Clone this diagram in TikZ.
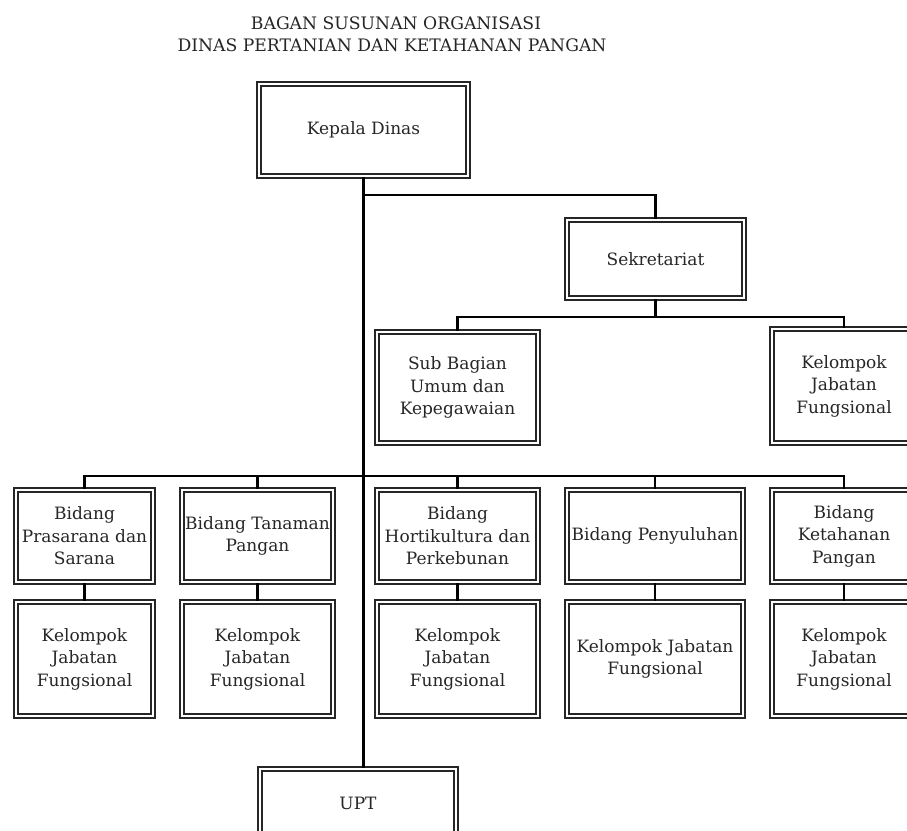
\documentclass[tikz,border=0pt]{standalone}
\usepackage{fontspec}
\setmainfont{DejaVu Serif}
\begin{document}
\begin{tikzpicture}[x=1pt,y=-1pt,
  box/.style={draw=black!85, double=white, double distance=1.9pt, line width=1.6pt,
    align=center, font=\fontsize{17}{22.5}\selectfont, inner sep=1pt, text=black!85},
  conn/.style={line width=2.8pt, draw=black},
  ttl/.style={font=\fontsize{17.2}{20}\selectfont, text=black!85}]
\useasboundingbox (0,0) rectangle (907,830);
\clip (0,0) rectangle (907,830);
\fill[white] (0,0) rectangle (907,830);
% title
\node[ttl] (t1) at (396,23) {BAGAN SUSUNAN ORGANISASI};
\node[ttl] (t2) at (392,45) {DINAS PERTANIAN DAN KETAHANAN PANGAN};
% top
\node[box, minimum width=209, minimum height=92] (kd) at (363.5,130) {Kepala Dinas};
\node[box, minimum width=177, minimum height=78] (sek) at (655.5,259) {Sekretariat};
\node[box, minimum width=161, minimum height=111] (sub) at (457.5,387.5) {Sub Bagian\\Umum dan\\Kepegawaian};
\node[box, minimum width=144, minimum height=114] (kjf0) at (844,386) {Kelompok\\Jabatan\\Fungsional};
% bidang row
\node[box, minimum width=137, minimum height=92] (b1) at (84.5,536) {Bidang\\Prasarana dan\\Sarana};
\node[box, minimum width=151, minimum height=92] (b2) at (257.5,536) {Bidang Tanaman\\Pangan};
\node[box, minimum width=161, minimum height=92] (b3) at (457.5,536) {Bidang\\Hortikultura dan\\Perkebunan};
\node[box, minimum width=176, minimum height=92] (b4) at (655,536) {Bidang Penyuluhan};
\node[box, minimum width=144, minimum height=92] (b5) at (844,536) {Bidang\\Ketahanan\\Pangan};
% kelompok row
\node[box, minimum width=137, minimum height=114] (k1) at (84.5,659) {Kelompok\\Jabatan\\Fungsional};
\node[box, minimum width=151, minimum height=114] (k2) at (257.5,659) {Kelompok\\Jabatan\\Fungsional};
\node[box, minimum width=161, minimum height=114] (k3) at (457.5,659) {Kelompok\\Jabatan\\Fungsional};
\node[box, minimum width=176, minimum height=114] (k4) at (655,659) {Kelompok Jabatan\\Fungsional};
\node[box, minimum width=144, minimum height=114] (k5) at (844,659) {Kelompok\\Jabatan\\Fungsional};
% UPT
\node[box, minimum width=196, minimum height=69] (upt) at (358,803.5) {UPT};
% connectors
\coordinate (j1) at (363.5,195);
\coordinate (j2) at (655.5,317);
\coordinate (j3) at (363.5,476);
\draw[conn] (kd.south) -- (kd.south |- upt.north);
\draw[conn] (j1) -| (sek.north);
\draw[conn] (sek.south) -- (j2);
\draw[conn] (sub.north) |- (j2) -| (kjf0.north);
\draw[conn] (b1.north) |- (j3) -| (b5.north);
\draw[conn] (b2.north) -- (b2.north |- j3);
\draw[conn] (b3.north) -- (b3.north |- j3);
\draw[conn] (b4.north) -- (b4.north |- j3);
\draw[conn] (b1.south) -- (k1.north);
\draw[conn] (b2.south) -- (k2.north);
\draw[conn] (b3.south) -- (k3.north);
\draw[conn] (b4.south) -- (k4.north);
\draw[conn] (b5.south) -- (k5.north);
\end{tikzpicture}
\end{document}
